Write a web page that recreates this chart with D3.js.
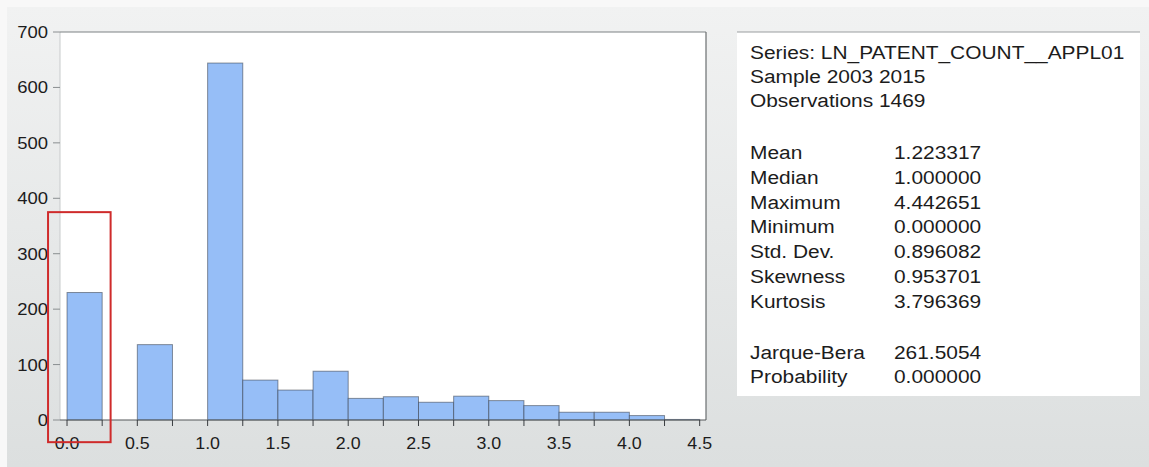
<!DOCTYPE html>
<html>
<head>
<meta charset="utf-8">
<script src="https://cdn.jsdelivr.net/npm/d3@7"></script>
<style>
  html, body { margin: 0; padding: 0; background: #f4f5f5; }
  svg { display: block; font-family: "Liberation Sans", Arial, sans-serif; }
</style>
</head>
<body>
<svg id="chart" width="1149" height="467"></svg>
<script>
// Histogram bins of LN_PATENT_COUNT__APPL01 (bin width 0.25)
const binStarts = [0.00, 0.25, 0.50, 0.75, 1.00, 1.25, 1.50, 1.75, 2.00, 2.25, 2.50, 2.75, 3.00, 3.25, 3.50, 3.75, 4.00, 4.25];
const binCounts = [230, 0, 136, 0, 644, 72, 54, 88, 39, 42, 32, 43, 35, 26, 14, 14, 8, 1];
const binWidth = 0.25;

const xTicks = [0.0, 0.5, 1.0, 1.5, 2.0, 2.5, 3.0, 3.5, 4.0, 4.5];
const yTicks = [0, 100, 200, 300, 400, 500, 600, 700];

// Descriptive statistics panel
const headerLines = ["Series: LN_PATENT_COUNT__APPL01", "Sample 2003 2015", "Observations 1469"];
const statLabels = ["Mean", "Median", "Maximum", "Minimum", "Std. Dev.", "Skewness", "Kurtosis"];
const statValues = ["1.223317", "1.000000", "4.442651", "0.000000", "0.896082", "0.953701", "3.796369"];
const testLabels = ["Jarque-Bera", "Probability"];
const testValues = ["261.5054", "0.000000"];

// Highlight box around the first bin, in data units
const highlightX = [-0.135, 0.31];
const highlightY = [-40, 375];

const svg = d3.select("#chart");
const W = 1149, H = 467;

// background
const defs = svg.append("defs");
const grad = defs.append("linearGradient").attr("id", "bg").attr("x1", 0).attr("y1", 0).attr("x2", 0).attr("y2", 1);
grad.append("stop").attr("offset", "0%").attr("stop-color", "#f1f2f2");
grad.append("stop").attr("offset", "100%").attr("stop-color", "#dcdfdf");
svg.append("rect").attr("width", W).attr("height", H).attr("fill", "#f8f8f8");
svg.append("rect").attr("x", 7).attr("y", 7).attr("width", W - 7).attr("height", H - 7).attr("fill", "url(#bg)");

const plot = { left: 60, top: 32, right: 706, bottom: 420 };
const x = d3.scaleLinear().domain([-0.05, 4.545]).range([plot.left, plot.right]);
const y = d3.scaleLinear().domain([0, 700]).range([plot.bottom, plot.top]);

// text helper with slight horizontal stretch
function label(g, tx, ty, str, size, anchor, sx) {
  g.append("text")
    .attr("transform", `translate(${tx},${ty}) scale(${sx},1)`)
    .attr("text-anchor", anchor)
    .attr("font-size", size)
    .attr("fill", "#1c1c1c")
    .text(str);
}

// plot area
svg.append("rect")
  .attr("x", plot.left).attr("y", plot.top)
  .attr("width", plot.right - plot.left).attr("height", plot.bottom - plot.top)
  .attr("fill", "#ffffff");

// bars
const bars = binStarts.map((s, i) => ({ x0: s, x1: s + binWidth, n: binCounts[i] })).filter(d => d.n > 0);
svg.append("g").selectAll("rect").data(bars).join("rect")
  .attr("x", d => x(d.x0))
  .attr("y", d => y(d.n))
  .attr("width", d => x(d.x1) - x(d.x0))
  .attr("height", d => y(0) - y(d.n))
  .attr("fill", "#96bef7")
  .attr("stroke", "#2a2f3a")
  .attr("stroke-opacity", 0.5)
  .attr("stroke-width", 1);

// frame
svg.append("line").attr("x1", plot.left).attr("x2", plot.left).attr("y1", plot.top).attr("y2", plot.bottom)
  .attr("stroke", "#c8cbcc").attr("stroke-width", 1);
svg.append("line").attr("x1", plot.left).attr("x2", plot.right).attr("y1", plot.top).attr("y2", plot.top)
  .attr("stroke", "#7d8283").attr("stroke-width", 1.2);
svg.append("line").attr("x1", plot.right).attr("x2", plot.right).attr("y1", plot.top).attr("y2", plot.bottom)
  .attr("stroke", "#6a6e70").attr("stroke-width", 1.2);
svg.append("line").attr("x1", plot.left).attr("x2", plot.right).attr("y1", plot.bottom).attr("y2", plot.bottom)
  .attr("stroke", "#55595b").attr("stroke-width", 1.2);

// x axis ticks every bin edge, labels every 0.5
const xMinor = d3.range(0, 4.5 + 1e-9, binWidth);
svg.append("g").selectAll("line").data(xMinor).join("line")
  .attr("x1", d => x(d)).attr("x2", d => x(d))
  .attr("y1", plot.bottom).attr("y2", plot.bottom + 6)
  .attr("stroke", "#3a3d40").attr("stroke-width", 1);
const xl = svg.append("g");
xTicks.forEach(t => label(xl, x(t), 448.5, d3.format(".1f")(t), 16.5, "middle", 1.08));

// y axis ticks
svg.append("g").selectAll("line").data(yTicks).join("line")
  .attr("x1", plot.left - 7).attr("x2", plot.left)
  .attr("y1", d => y(d)).attr("y2", d => y(d))
  .attr("stroke", "#8a8e90").attr("stroke-width", 1);
const yl = svg.append("g");
yTicks.forEach(t => label(yl, 48, y(t) + 6, String(t), 16.5, "end", 1.12));

// highlight box
svg.append("rect")
  .attr("x", x(highlightX[0])).attr("y", y(highlightY[1]))
  .attr("width", x(highlightX[1]) - x(highlightX[0]))
  .attr("height", y(highlightY[0]) - y(highlightY[1]))
  .attr("fill", "none").attr("stroke", "#cf2b2b").attr("stroke-width", 2);

// statistics panel
const panel = { left: 737, top: 32, right: 1140, bottom: 396 };
svg.append("rect")
  .attr("x", panel.left).attr("y", panel.top)
  .attr("width", panel.right - panel.left).attr("height", panel.bottom - panel.top)
  .attr("fill", "#ffffff");
svg.append("line").attr("x1", panel.left).attr("x2", panel.right).attr("y1", panel.top).attr("y2", panel.top)
  .attr("stroke", "#9a9ea0").attr("stroke-width", 1.2);

const sp = svg.append("g");
const col1 = 750, col2 = 894, fs = 19, sx = 1.1;
headerLines.forEach((s, i) => label(sp, col1, 59.3 + i * 24, s, fs, "start", sx));
statLabels.forEach((s, i) => {
  label(sp, col1, 159 + i * 24.8, s, fs, "start", sx);
  label(sp, col2, 159 + i * 24.8, statValues[i], fs, "start", sx);
});
testLabels.forEach((s, i) => {
  label(sp, col1, 358.5 + i * 24.8, s, fs, "start", sx);
  label(sp, col2, 358.5 + i * 24.8, testValues[i], fs, "start", sx);
});
</script>
</body>
</html>
